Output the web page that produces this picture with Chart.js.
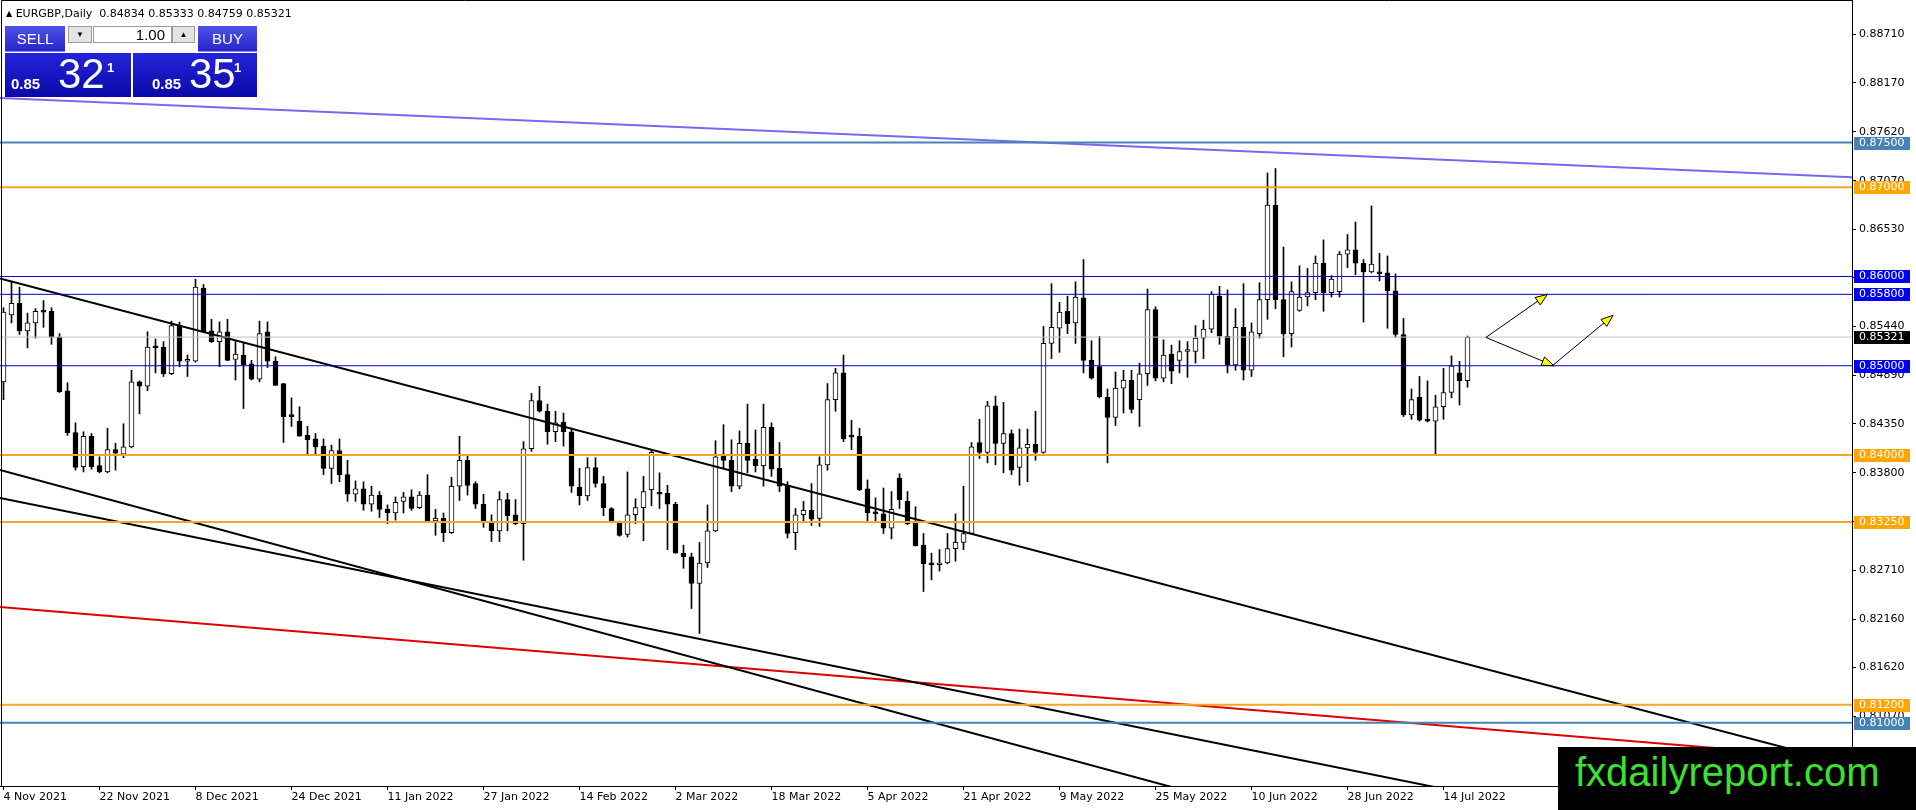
<!DOCTYPE html>
<html>
<head>
<meta charset="utf-8">
<script src="https://cdn.jsdelivr.net/npm/chart.js@4.4.0/dist/chart.umd.min.js"></script>
<style>
html, body { margin: 0; padding: 0; background: #fff; }
#wrap { position: relative; width: 1916px; height: 810px; overflow: hidden; }
#chart { position: absolute; left: 0; top: 0; }
.hdr { position: absolute; left: 6px; top: 7px; font: 11px "DejaVu Sans", sans-serif; color: #000; white-space: pre; line-height: 13px; }
.hdr .tri { font-size: 8px; vertical-align: 1px; }
.box { position: absolute; box-sizing: border-box; color: #fff; font-family: "Liberation Sans", Arial, sans-serif; }
.top { top: 26px; height: 26px; line-height: 25px; font-size: 15px; text-align: center; background: linear-gradient(#5050ea, #2828cc); border-bottom: 1px solid #8c8cf5; }
.lot { top: 26px; height: 17px; background: #e4e4e4; border: 1px solid #9a9a9a; color: #000; font-size: 8px; text-align: center; line-height: 15px; }
.lotval { top: 26px; height: 17px; background: #fff; border: 1px solid #9a9a9a; color: #000; font-size: 15px; text-align: right; padding-right: 6px; line-height: 15px; }
.price { top: 53px; height: 44px; background: linear-gradient(#2424dc, #0a0aa8); }
.price span { position: absolute; }
.price .sm { font-weight: bold; font-size: 15px; top: 22px; }
.price .big { font-size: 42px; top: 0px; line-height: 42px; }
.price .sup { font-weight: bold; font-size: 13px; top: 7px; }
#mark { position: absolute; left: 1558px; top: 747px; width: 358px; height: 63px; background: #000; }
#mark span { position: absolute; left: 17px; top: 2px; font: 40px "Liberation Sans", Arial, sans-serif; color: #3ee030; line-height: 46px; white-space: nowrap; }
</style>
</head>
<body>
<div id="wrap">
  <canvas id="chart" width="1916" height="810"></canvas>
  <div class="hdr" id="hdr"></div>
  <div class="box top" style="left:5px;width:60px;">SELL</div>
  <div class="box lot" style="left:68px;width:24px;">&#9660;</div>
  <div class="box lotval" style="left:93px;width:79px;">1.00</div>
  <div class="box lot" style="left:172px;width:23px;">&#9650;</div>
  <div class="box top" style="left:198px;width:59px;">BUY</div>
  <div class="box price" style="left:5px;width:126px;" id="sellBox"></div>
  <div class="box price" style="left:133px;width:124px;" id="buyBox"></div>
  <div id="mark"><span>fxdailyreport.com</span></div>
</div>
<script>
// bar index 0 = 4 Nov 2021, one bar per weekday up to 19 Jul 2022
const dateLabels = ['4 Nov 2021', '22 Nov 2021', '8 Dec 2021', '24 Dec 2021', '11 Jan 2022', '27 Jan 2022',
  '14 Feb 2022', '2 Mar 2022', '18 Mar 2022', '5 Apr 2022', '21 Apr 2022', '9 May 2022', '25 May 2022',
  '10 Jun 2022', '28 Jun 2022', '14 Jul 2022'];
const dateTickBars = [0, 12, 24, 36, 48, 60, 72, 84, 96, 108, 120, 132, 144, 156, 168, 180];

const opens = [
  0.8482,0.8557,0.8570,0.8539,0.8548,0.8561,0.8561,0.8532,0.8472,0.8425,
  0.8387,0.8421,0.8388,0.8381,0.8406,0.8401,0.8409,0.8482,0.8477,0.8521,
  0.8521,0.8491,0.8545,0.8505,0.8505,0.8587,0.8539,0.8527,0.8538,0.8507,
  0.8512,0.8502,0.8485,0.8538,0.8505,0.8480,0.8444,0.8438,0.8422,0.8418,
  0.8410,0.8385,0.8405,0.8378,0.8356,0.8362,0.8345,0.8355,0.8339,0.8335,
  0.8348,0.8353,0.8341,0.8355,0.8326,0.8329,0.8313,0.8365,0.8394,0.8368,
  0.8345,0.8324,0.8315,0.8350,0.8333,0.8323,0.8407,0.8461,0.8449,0.8426,
  0.8437,0.8426,0.8364,0.8354,0.8386,0.8368,0.8340,0.8325,0.8311,0.8333,
  0.8341,0.8361,0.8357,0.8357,0.8345,0.8290,0.8286,0.8256,0.8279,0.8315,
  0.8399,0.8394,0.8365,0.8413,0.8395,0.8388,0.8431,0.8385,0.8366,0.8313,
  0.8333,0.8338,0.8329,0.8389,0.8462,0.8492,0.8421,0.8421,0.8362,0.8335,
  0.8334,0.8318,0.8374,0.8348,0.8324,0.8299,0.8278,0.8277,0.8279,0.8295,
  0.8302,0.8312,0.8414,0.8403,0.8455,0.8413,0.8424,0.8386,0.8408,0.8412,
  0.8403,0.8525,0.8542,0.8561,0.8548,0.8576,0.8506,0.8499,0.8465,0.8442,
  0.8475,0.8484,0.8462,0.8491,0.8563,0.8486,0.8513,0.8506,0.8516,0.8516,
  0.8531,0.8541,0.8578,0.8533,0.8501,0.8543,0.8495,0.8536,0.8574,0.8680,
  0.8574,0.8536,0.8562,0.8577,0.8582,0.8615,0.8582,0.8583,0.8625,0.8630,
  0.8615,0.8605,0.8604,0.8604,0.8584,0.8535,0.8445,0.8465,0.8439,0.8438,
  0.8454,0.8470,0.8492,0.84834
];
const highs = [
  0.8565,0.8594,0.8588,0.8559,0.8564,0.8573,0.8565,0.8536,0.8481,0.8436,
  0.8426,0.8424,0.8398,0.8430,0.8413,0.8435,0.8495,0.8483,0.8538,0.8530,
  0.8527,0.8550,0.8549,0.8512,0.8597,0.8591,0.8552,0.8549,0.8552,0.8527,
  0.8525,0.8506,0.8550,0.8549,0.8510,0.8480,0.8464,0.8454,0.8432,0.8424,
  0.8418,0.8411,0.8418,0.8394,0.8371,0.8370,0.8365,0.8359,0.8344,0.8353,
  0.8358,0.8361,0.8359,0.8378,0.8339,0.8335,0.8375,0.8421,0.8399,0.8370,
  0.8356,0.8333,0.8359,0.8357,0.8350,0.8415,0.8469,0.8477,0.8457,0.8449,
  0.8447,0.8430,0.8385,0.8397,0.8397,0.8376,0.8341,0.8326,0.8381,0.8351,
  0.8376,0.8405,0.8380,0.8366,0.8347,0.8299,0.8290,0.8302,0.8344,0.8416,
  0.8434,0.8417,0.8427,0.8457,0.8428,0.8457,0.8436,0.8414,0.8370,0.8340,
  0.8348,0.8368,0.8398,0.8480,0.8497,0.8512,0.8439,0.8430,0.8372,0.8352,
  0.8363,0.8359,0.8379,0.8359,0.8342,0.8312,0.8290,0.8294,0.8312,0.8334,
  0.8365,0.8414,0.8440,0.8460,0.8466,0.8459,0.8428,0.8429,0.8429,0.8449,
  0.8544,0.8592,0.8571,0.8578,0.8594,0.8619,0.8528,0.8533,0.8474,0.8493,
  0.8495,0.8495,0.8503,0.8586,0.8566,0.8529,0.8523,0.8528,0.8527,0.8545,
  0.8551,0.8583,0.8589,0.8585,0.8564,0.8592,0.8548,0.8593,0.8716,0.8721,
  0.8633,0.8594,0.8612,0.8609,0.8623,0.8641,0.8601,0.8628,0.8647,0.8661,
  0.8619,0.8679,0.8626,0.8623,0.8603,0.8553,0.8474,0.8488,0.8483,0.8467,
  0.8497,0.8511,0.8505,0.85333
];
const lows = [
  0.8462,0.8548,0.8535,0.8520,0.8531,0.8543,0.8524,0.8470,0.8422,0.8383,
  0.8381,0.8384,0.8380,0.8380,0.8383,0.8397,0.8408,0.8446,0.8472,0.8492,
  0.8488,0.8490,0.8499,0.8488,0.8504,0.8537,0.8526,0.8499,0.8506,0.8484,
  0.8452,0.8484,0.8482,0.8498,0.8478,0.8414,0.8432,0.8421,0.8401,0.8401,
  0.8378,0.8368,0.8370,0.8348,0.8348,0.8338,0.8337,0.8330,0.8323,0.8327,
  0.8335,0.8338,0.8340,0.8326,0.8310,0.8303,0.8312,0.8349,0.8355,0.8340,
  0.8319,0.8303,0.8303,0.8315,0.8322,0.8282,0.8404,0.8448,0.8412,0.8415,
  0.8410,0.8358,0.8344,0.8349,0.8364,0.8332,0.8324,0.8309,0.8308,0.8323,
  0.8304,0.8343,0.8340,0.8294,0.8290,0.8273,0.8228,0.8200,0.8274,0.8314,
  0.8385,0.8359,0.8362,0.8380,0.8381,0.8365,0.8376,0.8359,0.8307,0.8294,
  0.8324,0.8321,0.8320,0.8383,0.8449,0.8415,0.8406,0.8360,0.8325,0.8324,
  0.8312,0.8306,0.8340,0.8322,0.8298,0.8247,0.8260,0.8270,0.8278,0.8281,
  0.8294,0.8311,0.8396,0.8391,0.8389,0.8380,0.8378,0.8366,0.8370,0.8394,
  0.8402,0.8508,0.8515,0.8536,0.8525,0.8492,0.8485,0.8464,0.8391,0.8433,
  0.8447,0.8447,0.8432,0.8478,0.8483,0.8482,0.8480,0.8492,0.8487,0.8503,
  0.8508,0.8537,0.8524,0.8492,0.8495,0.8484,0.8488,0.8531,0.8552,0.8564,
  0.8510,0.8521,0.8561,0.8567,0.8574,0.8561,0.8577,0.8577,0.8610,0.8602,
  0.8549,0.8604,0.8595,0.8542,0.8532,0.8443,0.8440,0.8438,0.8437,0.8401,
  0.8440,0.8464,0.8456,0.84759
];
const closes = [
  0.8560,0.8570,0.8539,0.8548,0.8561,0.8560,0.8532,0.8471,0.8425,0.8386,
  0.8421,0.8387,0.8381,0.8406,0.8402,0.8409,0.8482,0.8477,0.8521,0.8520,
  0.8491,0.8545,0.8505,0.8506,0.8588,0.8538,0.8527,0.8538,0.8506,0.8513,
  0.8501,0.8485,0.8536,0.8505,0.8478,0.8443,0.8443,0.8421,0.8417,0.8409,
  0.8385,0.8405,0.8378,0.8356,0.8362,0.8345,0.8355,0.8339,0.8335,0.8347,
  0.8353,0.8340,0.8355,0.8326,0.8329,0.8313,0.8365,0.8394,0.8366,0.8345,
  0.8326,0.8315,0.8350,0.8332,0.8323,0.8407,0.8461,0.8449,0.8426,0.8436,
  0.8426,0.8365,0.8354,0.8386,0.8368,0.8341,0.8325,0.8310,0.8333,0.8341,
  0.8359,0.8403,0.8356,0.8345,0.8290,0.8286,0.8256,0.8279,0.8315,0.8398,
  0.8394,0.8365,0.8413,0.8394,0.8388,0.8431,0.8384,0.8365,0.8312,0.8333,
  0.8338,0.8328,0.8389,0.8462,0.8492,0.8418,0.8420,0.8361,0.8335,0.8334,
  0.8318,0.8339,0.8350,0.8323,0.8298,0.8278,0.8277,0.8278,0.8295,0.8302,
  0.8312,0.8409,0.8403,0.8455,0.8413,0.8424,0.8383,0.8408,0.8412,0.8403,
  0.8525,0.8543,0.8560,0.8547,0.8577,0.8506,0.8486,0.8465,0.8442,0.8475,
  0.8484,0.8451,0.8491,0.8563,0.8486,0.8512,0.8494,0.8516,0.8517,0.8531,
  0.8541,0.8580,0.8533,0.8501,0.8543,0.8495,0.8538,0.8574,0.8680,0.8574,
  0.8536,0.8583,0.8577,0.8582,0.8615,0.8582,0.8597,0.8625,0.8630,0.8615,
  0.8605,0.8614,0.8603,0.8584,0.8535,0.8445,0.8462,0.8439,0.8438,0.8454,
  0.8470,0.8500,0.8483,0.85321
];

const yTicks = [0.88710, 0.88170, 0.87620, 0.87070, 0.86530, 0.85990, 0.85440, 0.84890,
  0.84350, 0.83800, 0.83250, 0.82710, 0.82160, 0.81620, 0.81070];

// horizontal levels drawn on the chart
const levelValues = [0.875, 0.870, 0.860, 0.858, 0.850, 0.840, 0.8325, 0.812, 0.810];
const levelKinds  = ['steel', 'orange', 'blue', 'blue', 'blue', 'orange', 'orange', 'orange', 'steel'];
const bidPrice = 0.85321;
const askPrice = 0.85351;

// trend lines: [bar, price] at both ends
const trendKinds = ['purple', 'black', 'black', 'black', 'red'];
const trendFrom = [[-0.44, 0.88000], [-0.44, 0.85979], [-0.44, 0.83832], [-0.44, 0.83518], [-0.44, 0.82297]];
const trendTo   = [[231.06, 0.87112], [231.06, 0.80522], [231.06, 0.78217], [231.06, 0.79337], [231.06, 0.80591]];

// arrows drawn next to the last candle
const arrowFrom = [[185.3, 0.85317], [185.3, 0.85317], [193.6, 0.85000]];
const arrowTo   = [[193.0, 0.85800], [193.8, 0.85000], [201.2, 0.85565]];

const styles = {
  steel:  { line: '#4682b4', box: '#4682b4', width: 2 },
  orange: { line: '#f5a623', box: '#ffa500', width: 2 },
  blue:   { line: '#0000cd', box: '#0000f0', width: 1 },
  purple: { line: '#7b68ee', width: 2 },
  black:  { line: '#000000', width: 2 },
  red:    { line: '#e00000', width: 2 }
};

const xMin = -0.4375, xMax = 231.0625;
const yMin = 0.80291, yMax = 0.89098;

// header and trade panel text
const last = opens.length - 1;
document.getElementById('hdr').innerHTML = '<span class="tri">&#9650;</span> EURGBP,Daily  ' +
  [opens[last], highs[last], lows[last], closes[last]].map(v => v.toFixed(5)).join(' ');

function fillPrice(id, p, offs) {
  const s = p.toFixed(5);
  document.getElementById(id).innerHTML =
    '<span class="sm" style="left:' + offs[0] + 'px">' + s.slice(0, 4) + '</span>' +
    '<span class="big" style="left:' + offs[1] + 'px">' + s.slice(4, 6) + '</span>' +
    '<span class="sup" style="left:' + offs[2] + 'px">' + s.slice(6) + '</span>';
}
fillPrice('sellBox', bidPrice, [6, 53, 102]);
fillPrice('buyBox', askPrice, [19, 56, 101]);

// datasets
const datasets = [];
levelValues.forEach((v, i) => {
  const st = styles[levelKinds[i]];
  datasets.push({
    type: 'line', data: [{ x: xMin, y: v }, { x: xMax, y: v }],
    borderColor: st.line, borderWidth: st.width, pointRadius: 0, order: 0
  });
});
datasets.push({
  type: 'line', data: [{ x: xMin, y: bidPrice }, { x: xMax, y: bidPrice }],
  borderColor: '#c0c0c0', borderWidth: 1, pointRadius: 0, order: 0
});
trendFrom.forEach((a, i) => {
  const st = styles[trendKinds[i]];
  datasets.push({
    type: 'line', data: [{ x: a[0], y: a[1] }, { x: trendTo[i][0], y: trendTo[i][1] }],
    borderColor: st.line, borderWidth: st.width, pointRadius: 0, order: 0
  });
});
datasets.push({
  type: 'bar',
  data: opens.map((o, i) => ({ x: i, y: [o, closes[i]] })),
  backgroundColor: opens.map((o, i) => closes[i] > o ? '#ffffff' : '#000000'),
  borderColor: '#000', borderWidth: 1, borderSkipped: false,
  barThickness: 5, minBarLength: 2, grouped: false, order: 1
});
datasets.push({
  type: 'bar',
  data: highs.map((h, i) => ({ x: i, y: [lows[i], h] })),
  backgroundColor: '#000', borderWidth: 0, barThickness: 1, grouped: false, order: 2
});

// no extra room around the plot for edge labels
function noPad(s) {
  s.paddingLeft = 0; s.paddingRight = 0; s.paddingTop = 0; s.paddingBottom = 0;
}

const overlay = {
  id: 'overlay',
  afterDatasetsDraw(chart) {
    const ctx = chart.ctx, xs = chart.scales.x, ys = chart.scales.y;
    ctx.save();
    arrowFrom.forEach((a, i) => {
      const x1 = xs.getPixelForValue(a[0]), y1 = ys.getPixelForValue(a[1]);
      const x2 = xs.getPixelForValue(arrowTo[i][0]), y2 = ys.getPixelForValue(arrowTo[i][1]);
      const ang = Math.atan2(y2 - y1, x2 - x1);
      ctx.strokeStyle = '#000';
      ctx.lineWidth = 1;
      ctx.beginPath();
      ctx.moveTo(x1, y1);
      ctx.lineTo(x2, y2);
      ctx.stroke();
      const len = 12, hw = 4.5;
      const bx = x2 - len * Math.cos(ang), by = y2 - len * Math.sin(ang);
      ctx.beginPath();
      ctx.moveTo(x2, y2);
      ctx.lineTo(bx + hw * Math.sin(ang), by - hw * Math.cos(ang));
      ctx.lineTo(bx - hw * Math.sin(ang), by + hw * Math.cos(ang));
      ctx.closePath();
      ctx.fillStyle = '#ffff00';
      ctx.fill();
      ctx.stroke();
    });
    ctx.restore();
  },
  afterDraw(chart) {
    const ctx = chart.ctx, ys = chart.scales.y, area = chart.chartArea;
    ctx.save();
    // frame
    ctx.strokeStyle = '#000';
    ctx.lineWidth = 1;
    ctx.beginPath();
    ctx.moveTo(area.right + 0.5, area.bottom + 0.5);
    ctx.lineTo(1.5, area.bottom + 0.5);
    ctx.lineTo(1.5, 0.5);
    ctx.lineTo(area.right + 0.5, 0.5);
    ctx.stroke();
    // price boxes on the axis
    ctx.font = '11px "DejaVu Sans", sans-serif';
    ctx.textBaseline = 'middle';
    const tags = levelValues.map((v, i) => [v, styles[levelKinds[i]].box]);
    tags.push([bidPrice, '#000000']);
    tags.forEach(t => {
      const y = Math.round(ys.getPixelForValue(t[0]));
      ctx.fillStyle = t[1];
      ctx.fillRect(area.right + 2, y - 6, 56, 13);
      ctx.fillStyle = '#fff';
      ctx.fillText(t[0].toFixed(5), area.right + 7, y + 0.5);
    });
    ctx.restore();
  }
};

new Chart(document.getElementById('chart'), {
  type: 'bar',
  data: { datasets },
  options: {
    responsive: false,
    animation: false,
    events: [],
    layout: { padding: 0 },
    plugins: { legend: { display: false }, tooltip: { enabled: false } },
    scales: {
      x: {
        type: 'linear', min: xMin, max: xMax, offset: false,
        afterBuildTicks: s => { s.ticks = dateTickBars.map(v => ({ value: v })); },
        afterFit: s => { s.height = 24; noPad(s); },
        ticks: {
          autoSkip: false, maxRotation: 0, align: 'start', padding: 1, color: '#000',
          font: { family: 'DejaVu Sans', size: 11 },
          callback: (v, i) => dateLabels[i]
        },
        grid: { drawOnChartArea: false, offset: false, tickLength: 4, color: '#000' },
        border: { display: true, color: '#000' }
      },
      y: {
        position: 'right', min: yMin, max: yMax,
        afterBuildTicks: s => { s.ticks = yTicks.map(v => ({ value: v })); },
        afterFit: s => { s.width = 64; noPad(s); },
        ticks: {
          padding: 3, color: '#000', font: { family: 'DejaVu Sans', size: 11 },
          callback: v => v.toFixed(5)
        },
        grid: { drawOnChartArea: false, tickLength: 4, color: '#000' },
        border: { display: true, color: '#000' }
      }
    }
  },
  plugins: [overlay]
});
</script>
</body>
</html>
